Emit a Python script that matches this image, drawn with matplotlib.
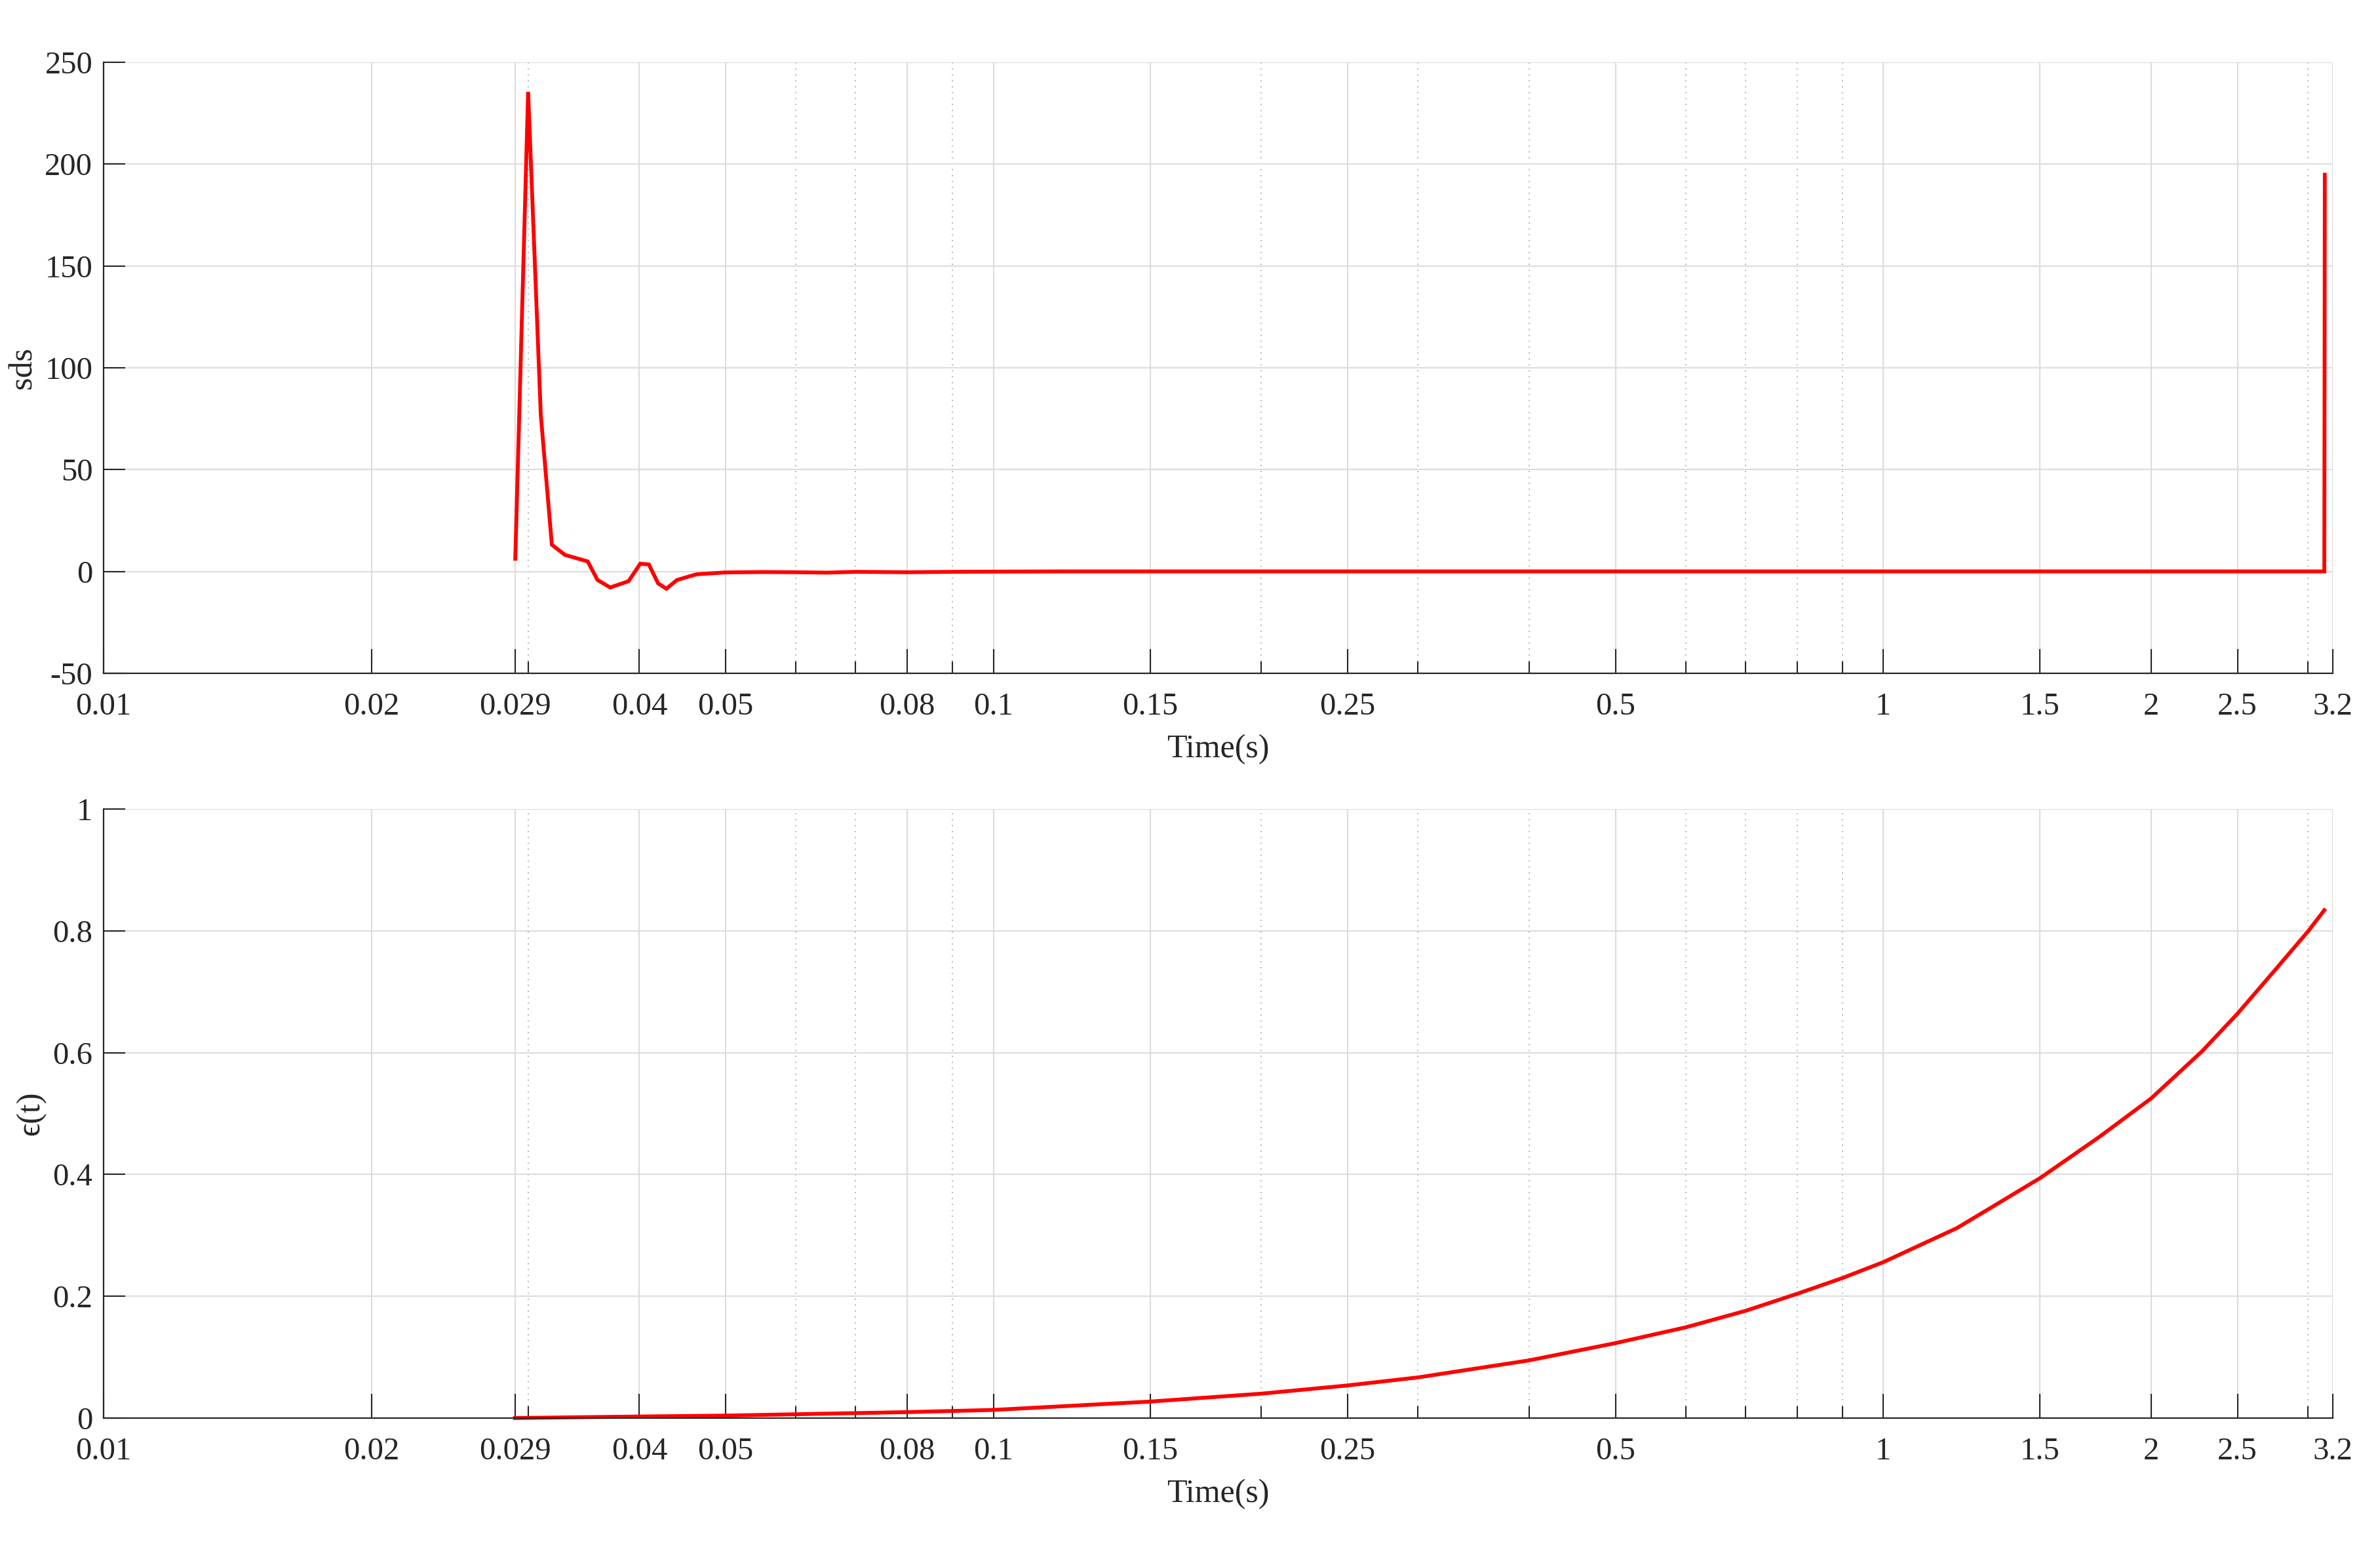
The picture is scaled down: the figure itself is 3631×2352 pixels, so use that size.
import matplotlib
matplotlib.use('Agg')
import matplotlib.pyplot as plt
from matplotlib.ticker import FixedLocator, FixedFormatter, NullFormatter

# ---------------- data ----------------
t_sds = [0.02902, 0.0300, 0.0310, 0.0319, 0.0330, 0.0350, 0.0359, 0.0371, 0.0389,
         0.0401, 0.0410, 0.0420, 0.0429, 0.0441, 0.0464, 0.050, 0.055, 0.060,
         0.065, 0.070, 0.080, 0.090, 0.10, 0.12, 0.15, 0.25, 0.5, 1.0, 2.0,
         3.130, 3.134]
sds = [6.2, 235.5, 76.8, 13.1, 8.1, 4.9, -4.2, -7.9, -4.8,
       3.8, 3.4, -5.9, -8.5, -4.2, -1.4, -0.5, -0.3, -0.4,
       -0.6, -0.2, -0.4, -0.2, -0.1, 0.0, 0.0, 0.0, 0.0, 0.0, 0.0,
       0.0, 194.8]

t_eps = [0.029, 0.035, 0.04, 0.05, 0.08, 0.1, 0.15, 0.2, 0.25, 0.3, 0.4, 0.5,
         0.6, 0.7, 0.8, 0.9, 1.0, 1.21, 1.33, 1.5, 1.75, 2.0, 2.28, 2.5, 2.76,
         3.0, 3.13]
eps = [0.0, 0.0015, 0.0025, 0.004, 0.0097, 0.0133, 0.027, 0.040, 0.0535, 0.0667,
       0.0947, 0.123, 0.149, 0.176, 0.204, 0.230, 0.256, 0.312, 0.348, 0.394,
       0.462, 0.525, 0.602, 0.664, 0.737, 0.799, 0.834]

x_major = [0.01, 0.02, 0.029, 0.04, 0.05, 0.08, 0.1, 0.15, 0.25, 0.5, 1, 1.5, 2, 2.5, 3.2]
x_major_labels = ['0.01', '0.02', '0.029', '0.04', '0.05', '0.08', '0.1', '0.15',
                  '0.25', '0.5', '1', '1.5', '2', '2.5', '3.2']
x_minor = [0.03, 0.06, 0.07, 0.09, 0.2, 0.3, 0.4, 0.6, 0.7, 0.8, 0.9, 3]

y1_ticks = [-50, 0, 50, 100, 150, 200, 250]
y1_labels = ['-50', '0', '50', '100', '150', '200', '250']
y2_ticks = [0, 0.2, 0.4, 0.6, 0.8, 1]
y2_labels = ['0', '0.2', '0.4', '0.6', '0.8', '1']

# ---------------- style ----------------
plt.rcParams['font.family'] = ['Liberation Serif', 'DejaVu Serif']
TXT = '#262626'
FS = 35

fig = plt.figure(figsize=(36.31, 23.52), dpi=100)
ax1 = fig.add_axes([0.0435, 0.5634, 0.9367, 0.3962])
ax2 = fig.add_axes([0.0435, 0.0804, 0.9367, 0.3949])


def style(ax, yt, yl, ylim, ylabel):
    ax.set_xscale('log')
    ax.set_xlim(0.01, 3.2)
    ax.set_ylim(*ylim)
    ax.xaxis.set_major_locator(FixedLocator(x_major))
    ax.xaxis.set_major_formatter(FixedFormatter(x_major_labels))
    ax.xaxis.set_minor_locator(FixedLocator(x_minor))
    ax.xaxis.set_minor_formatter(NullFormatter())
    ax.yaxis.set_major_locator(FixedLocator(yt))
    ax.yaxis.set_major_formatter(FixedFormatter(yl))
    ax.tick_params(axis='x', which='major', direction='in', length=27, width=1.5,
                   pad=21, labelsize=FS, colors=TXT)
    ax.tick_params(axis='x', which='minor', direction='in', length=13, width=1.5,
                   colors=TXT)
    ax.tick_params(axis='y', which='major', direction='in', length=24, width=1.5,
                   pad=12, labelsize=FS, colors=TXT)
    ax.set_axisbelow(True)
    ax.grid(which='major', axis='both', color='#dddddd', lw=1.6, ls='-')
    ax.grid(which='minor', axis='x', color='#aaaaaa', lw=1.3, ls=(0, (1, 4)))
    for s in ['top', 'right']:
        ax.spines[s].set_visible(False)
    for s in ['left', 'bottom']:
        ax.spines[s].set_linewidth(1.6)
        ax.spines[s].set_color(TXT)
    ax.set_xlabel('Time(s)', fontsize=FS + 1, color=TXT, labelpad=14)
    ax.set_ylabel(ylabel, fontsize=FS + 1, color=TXT, labelpad=7)


style(ax1, y1_ticks, y1_labels, (-50, 250), 'sds')
style(ax2, y2_ticks, y2_labels, (0, 1), 'ϵ(t)')

ax1.plot(t_sds, sds, color='#ff0000', lw=4.2, solid_joinstyle='miter', clip_on=False)
ax2.plot(t_eps, eps, color='#ff0000', lw=4.2, solid_joinstyle='round', clip_on=False)

fig.savefig('out.png', dpi=100, facecolor='white')
